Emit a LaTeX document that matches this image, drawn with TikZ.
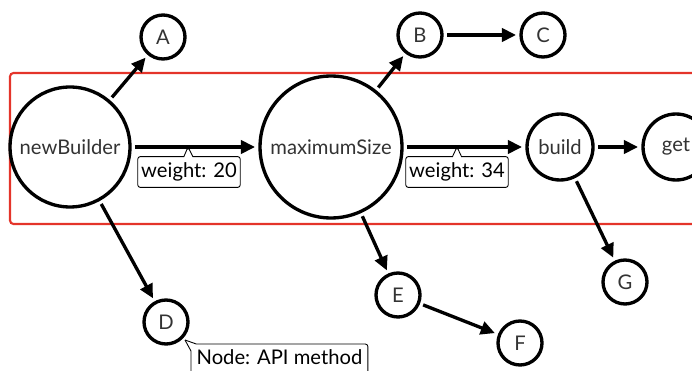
\documentclass[tikz,border=0pt]{standalone}
\usepackage{fontspec}
\setmainfont{Lato}
\usetikzlibrary{arrows.meta,shapes.callouts}
\definecolor{framered}{RGB}{228,52,42}

\begin{document}
\begin{tikzpicture}[x=0.02cm,y=-0.02cm,
		vertex/.style={circle,draw,line width=1.9pt,inner sep=0pt,minimum size=0.88cm,outer sep=0.1cm,text=black!80,font=\fontsize{11.5}{13}\selectfont},
		edge/.style={line width=1.9pt,-{Triangle[length=8pt,width=7.5pt]}},
		note/.style={rectangle callout,draw,fill=white,line width=0.5pt,rounded corners=1.5pt,inner xsep=2pt,inner ysep=3.5pt,callout pointer width=0.18cm,font=\fontsize{11.5}{13}\selectfont}]
		\useasboundingbox (0,0) rectangle (692,371);
		\draw[framered,line width=1.2pt,rounded corners=2pt] (10,73) rectangle (720,224);
		
		\node[vertex,minimum size=2.4cm] (newBuilder) at (70,147) {newBuilder};
		\node[vertex,minimum size=2.84cm] (maximumSize) at (331,147) {maximumSize};
		\node[vertex,minimum size=1.32cm] (build) at (560,147) {build};
		\node[vertex,minimum size=1.32cm] (get) at (676,147) {get};
		\node[vertex] (A) at (163,37) {A};
		\node[vertex] (B) at (420,35) {B};
		\node[vertex] (C) at (543,35) {C};
		\node[vertex] (D) at (166,322) {D};
		\node[vertex] (E) at (398,295) {E};
		\node[vertex] (F) at (520,343) {F};
		\node[vertex] (G) at (625,282) {G};
		
		\node[note,callout absolute pointer={(188,147)}] (w1) at (189,172) {weight: 20};
		\node[note,callout absolute pointer={(457,147)}] (w2) at (457,172) {weight: 34};
		
		\coordinate (apitip) at (185,340);
		\node[anchor=north west,inner xsep=3pt,inner ysep=3pt,font=\fontsize{11.5}{14}\selectfont] (api) at (191,344) {Node: API method};
		\draw[line width=0.5pt] (apitip) -- ([xshift=3pt]api.north west) -- ([xshift=-1.5pt]api.north east) to[bend left=45] ([yshift=-1.5pt]api.north east) -- ([yshift=-10pt]api.south east);
		\draw[line width=0.5pt] (apitip) -- ([yshift=-4pt]api.north west) -- ([yshift=-10pt]api.south west);
		
		\foreach \a/\b in {newBuilder/A,newBuilder/D,newBuilder/maximumSize,maximumSize/B,B/C,maximumSize/E,E/F,maximumSize/build,build/get,build/G}
			\draw[edge] (\a) -- (\b);
	\end{tikzpicture}
\end{document}
